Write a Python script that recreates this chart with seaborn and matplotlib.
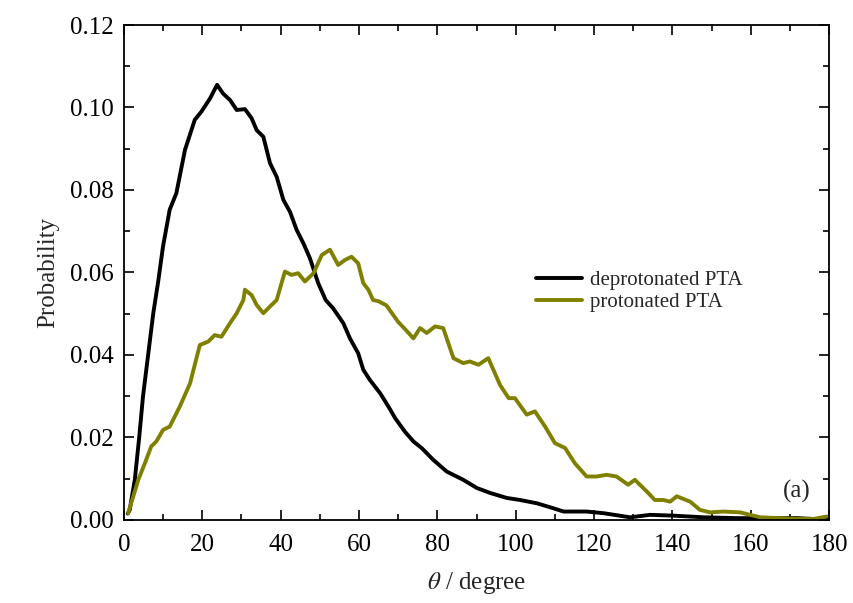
import numpy as np
import pandas as pd
import seaborn as sns
from matplotlib import pyplot as plt
from matplotlib.ticker import MultipleLocator

# angle distributions
theta_deprot = [1, 1.5, 2.8, 3.9, 4.9, 6.2, 7.5, 8.8, 10, 11.7, 13.4, 15.6, 18.1, 19.8, 22,
                23.8, 25.3, 27.1, 28.8, 30.9, 32.6, 33.9, 35.6, 37.3, 39, 40.7, 42.4, 44.1,
                45.8, 47.5, 49.6, 51.5, 53.4, 56, 57.7, 59.8, 61.1, 62.8, 65.4, 67.5, 69.2,
                71.7, 73.9, 76, 79, 82.4, 86.6, 90.1, 93.5, 97.7, 101.1, 105.4, 109.6, 112.2,
                118.1, 122.4, 129.2, 134.3, 140.3, 148, 156.5, 164.9, 171.8, 176, 179.5]
p_deprot = [0.0015, 0.0024, 0.0097, 0.0198, 0.03, 0.04, 0.05, 0.058, 0.0663, 0.0752, 0.0792,
            0.0897, 0.097, 0.099, 0.1022, 0.1055, 0.1034, 0.1018, 0.0994, 0.0996, 0.0974,
            0.0945, 0.0929, 0.0865, 0.0832, 0.0776, 0.0747, 0.0703, 0.0671, 0.0634, 0.0574,
            0.0533, 0.0513, 0.0477, 0.044, 0.0404, 0.0364, 0.0339, 0.0307, 0.0275, 0.0247,
            0.0214, 0.019, 0.0174, 0.0145, 0.0117, 0.0097, 0.0077, 0.0065, 0.0053, 0.0048,
            0.004, 0.0028, 0.002, 0.002, 0.0016, 0.0006, 0.0012, 0.001, 0.0006, 0.0004,
            0.0004, 0.0004, 0.0002, 0.0002]

theta_prot = [1.1, 3.7, 5.4, 7, 8.3, 10, 11.7, 14.3, 16.9, 19.4, 21.5, 23.2, 24.9, 27.1,
              28.8, 30.5, 30.9, 32.6, 33.9, 35.6, 37.7, 39, 41.1, 42.8, 44.5, 46.2, 48.4,
              50.5, 52.6, 54.7, 56.4, 58.1, 59.8, 61.1, 62.4, 63.6, 65, 67, 70, 72, 73.9,
              75.6, 77.3, 79.4, 81.5, 84.1, 86.6, 88.3, 90.5, 93, 96, 98.2, 99.8, 102.8,
              104.9, 107.5, 110, 112.6, 115.1, 118.1, 120.6, 123.2, 125.7, 128.7, 130.4,
              133.4, 135.5, 137.7, 139.4, 141.1, 144.5, 147, 149.6, 153, 157.3, 159.8,
              162.4, 167.5, 171.8, 176, 179.4]
p_prot = [0.0016, 0.0097, 0.0138, 0.0178, 0.019, 0.0218, 0.0226, 0.0275, 0.0331, 0.0424,
          0.0432, 0.0448, 0.0444, 0.0477, 0.0501, 0.0533, 0.0558, 0.0545, 0.0521, 0.0501,
          0.0521, 0.0533, 0.0602, 0.0594, 0.0598, 0.0578, 0.0598, 0.0642, 0.0655, 0.0618,
          0.063, 0.0638, 0.0622, 0.0574, 0.0558, 0.0533, 0.053, 0.052, 0.048, 0.046, 0.044,
          0.0465, 0.0453, 0.0469, 0.0465, 0.0392, 0.038, 0.0384, 0.0376, 0.0392, 0.0327,
          0.0295, 0.0295, 0.0255, 0.0263, 0.0226, 0.0186, 0.0174, 0.0137, 0.0105, 0.0105,
          0.0109, 0.0105, 0.0085, 0.0097, 0.0069, 0.0048, 0.0048, 0.0044, 0.0057, 0.0044,
          0.0024, 0.0018, 0.002, 0.0018, 0.0012, 0.0006, 0.0004, 0.0002, 0.0002, 0.0008]

labels = ["deprotonated PTA", "protonated PTA"]

df = pd.concat([
    pd.DataFrame({"theta": theta_deprot, "p": p_deprot, "kind": labels[0]}),
    pd.DataFrame({"theta": theta_prot, "p": p_prot, "kind": labels[1]}),
])

sns.set_style("ticks")
plt.rcParams['font.family'] = ['Liberation Serif', 'DejaVu Serif']
plt.rcParams['mathtext.fontset'] = 'stix'

fig = plt.figure(figsize=(8.54, 6.03), dpi=100)
ax = fig.add_axes([0.145, 0.138, 0.826, 0.8205])

sns.lineplot(data=df, x="theta", y="p", hue="kind", sort=False,
             palette={labels[0]: "black", labels[1]: "#808000"},
             linewidth=2.8, ax=ax)

ax.set_xlim(0, 180)
ax.set_ylim(0, 0.12)
ax.xaxis.set_major_locator(MultipleLocator(20))
ax.xaxis.set_minor_locator(MultipleLocator(10))
ax.yaxis.set_major_locator(MultipleLocator(0.02))
ax.yaxis.set_minor_locator(MultipleLocator(0.01))
ax.yaxis.set_major_formatter(plt.FormatStrFormatter('%.2f'))
ax.tick_params(which='both', direction='in', top=True, right=True, labelsize=18,
               width=1.2, colors='black')
ax.tick_params(which='major', length=7)
ax.tick_params(axis='x', which='major', pad=10)
ax.tick_params(axis='y', which='major', pad=7)
ax.tick_params(which='minor', length=4)
for s in ax.spines.values():
    s.set_linewidth(1.3)
    s.set_color('black')

ax.set_xlabel(r"$\theta$ / degree", fontsize=18, labelpad=10)
ax.set_ylabel("Probability", fontsize=18, labelpad=8)

ax.legend(loc='center left', bbox_to_anchor=(0.584, 0.462), frameon=False, fontsize=15,
          handlelength=2.2, handletextpad=0.4, labelspacing=0.1, borderaxespad=0,
          borderpad=0)

ax.text(171.8, 0.0068, "(a)", fontsize=18, ha='center', va='center')

fig.savefig("out.png", dpi=100)
